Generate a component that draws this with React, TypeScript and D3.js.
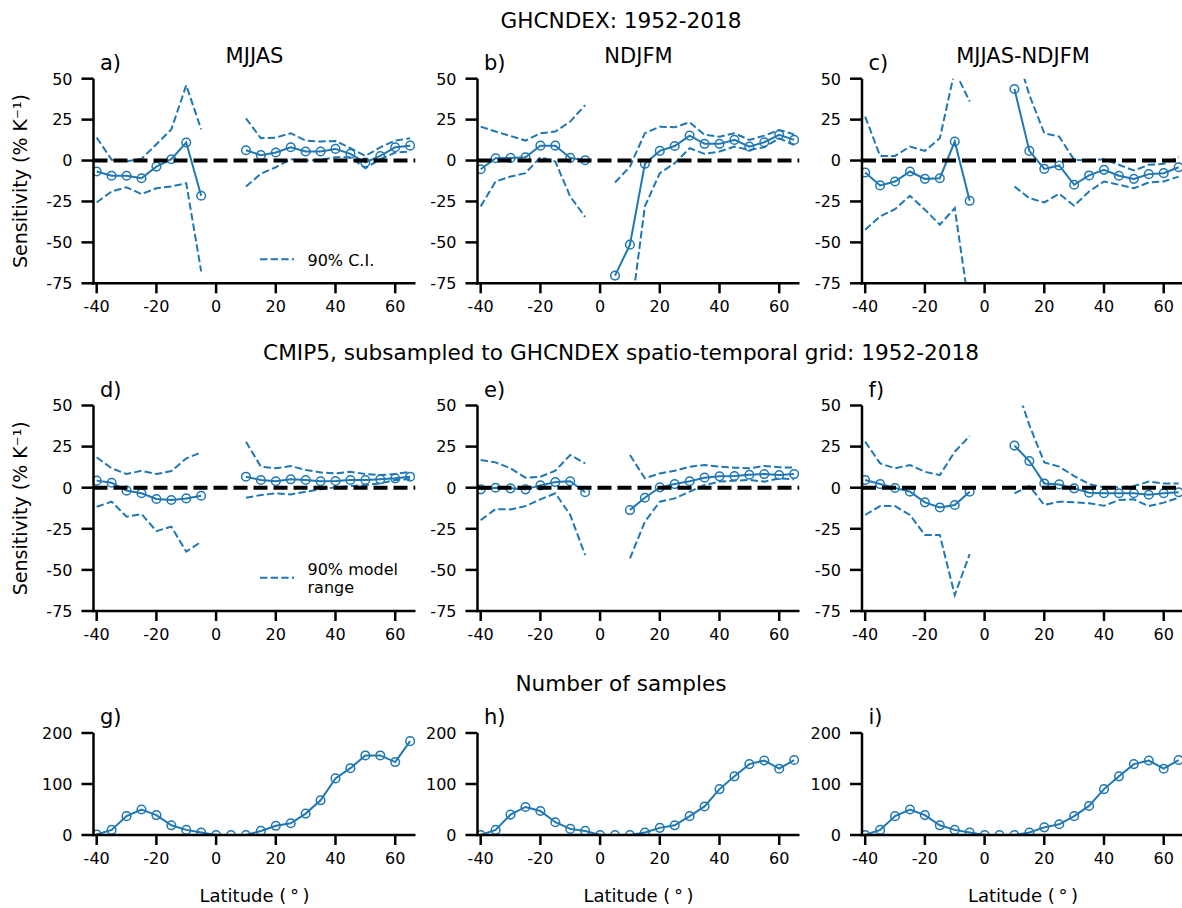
import * as d3 from "d3";

type Series = (number | null)[];

// latitude bin centres (degrees)
const LATITUDES = [-40, -35, -30, -25, -20, -15, -10, -5, 0, 5, 10, 15, 20, 25, 30, 35, 40, 45, 50, 55, 60, 65];

// GHCNDEX sensitivity (% K-1)
const meanA: Series = [-6.7, -9.3, -9.3, -10.8, -3.7, 0.8, 11, -21.5, null, null, 6.3, 3.3, 4.9, 8.1, 5.5, 5.5, 7.1, 4.1, -1.2, 2.8, 8.1, 9.1];
const upperA: Series = [14, 0.5, -0.5, 1, 10, 19, 46, 19, null, null, 25.8, 13.6, 14, 16.7, 12.2, 11.6, 12, 7.5, 2.8, 8.1, 12.2, 13.6];
const lowerA: Series = [-25.6, -18.9, -16.3, -20.5, -16.9, -15.9, -13.8, -67.7, null, null, -15.9, -8.1, -4.1, 0.8, 0, 0.4, 2, 2, -4.7, 0.8, 4.9, 5.5];

const meanB: Series = [-5.3, 1.4, 1.6, 2, 9.1, 9.1, 1.6, 0.2, null, -70.3, -51.4, -2, 5.9, 8.9, 15.2, 10.2, 10.2, 12.6, 8.5, 11.2, 15.7, 12.6];
const upperB: Series = [20.7, 17.7, 15, 12.2, 16.7, 17.7, 23.8, 33.9, null, -13.4, -3.7, 16.7, 20.7, 20.3, 23.4, 15.7, 14.6, 16.7, 12.6, 15.2, 18.7, 16];
const lowerB: Series = [-28, -12.8, -9.8, -7.7, 2, -0.6, -22, -34.5, null, -130, -98, -28, -7.7, -1.6, 7.5, 4.1, 5.5, 8.5, 6.5, 8.1, 13.6, 9.5];

const meanC: Series = [-7.3, -15.2, -12.8, -6.7, -11.2, -10.8, 11.6, -24.6, null, null, 43.7, 5.9, -5.1, -3, -14.8, -9.1, -5.7, -9.3, -11.2, -8.3, -7.7, -4.1];
const upperC: Series = [26.8, 2.8, 2.8, 8.5, 5.9, 13.6, 55, 36, null, null, 70, 40, 16.7, 14.6, 0.4, 0, 0.8, -2.6, -6.1, -2.6, -2, 2];
const lowerC: Series = [-42.3, -34.1, -29.7, -21.5, -30, -39.2, -29, -92, null, null, -15.9, -23, -25.6, -20.3, -27.6, -18.9, -12.8, -14.8, -16.9, -13.4, -12.8, -9.8];

// CMIP5 subsampled sensitivity (% K-1)
const meanD: Series = [4.3, 3, -1.8, -3.4, -6.9, -7.5, -6.5, -4.9, null, null, 6.7, 4.7, 3.9, 5.1, 4.7, 3.9, 4.1, 4.7, 4.7, 5.1, 5.7, 6.7];
const upperD: Series = [18.5, 11.8, 8.3, 10.3, 8.3, 10.1, 17.8, 21.5, null, null, 28, 12.8, 11.8, 13.2, 10.8, 9.3, 8.7, 9.7, 8.3, 7.7, 8.3, 9.7];
const lowerD: Series = [-11.6, -8.5, -17.6, -16, -26.4, -23.7, -38.9, -32.9, null, null, -6.1, -4.5, -3.4, -4.1, -2.4, -1, 0.2, 1, 1.6, 2.6, 4.7, 5.3];

const meanE: Series = [-1, 0, -0.4, -1, 1.4, 3.4, 3.9, -2.8, null, null, -13.6, -6.1, 0.2, 2.2, 3.9, 6.1, 6.9, 7.1, 7.9, 8.3, 7.7, 8.3];
const upperE: Series = [16.8, 15.4, 11.8, 6.1, 6.7, 10.3, 19.9, 14.8, null, null, 19.9, 5.7, 8.7, 10.3, 12.8, 13.8, 12.8, 12.2, 11.8, 13.2, 12.4, 12.2];
const lowerE: Series = [-19.7, -13, -13.2, -11.2, -7.1, -3.4, -16.6, -41, null, null, -43, -20.7, -8.5, -6.5, -2.4, 1.6, 3.7, 4.3, 4.7, 3.7, 5.7, 5.1];

const meanF: Series = [4.7, 2.2, -0.2, -2.4, -8.9, -12, -10.5, -2.4, null, null, 25.6, 16.2, 2.6, 2, -0.4, -3, -3.4, -3.4, -3.4, -4.3, -3.4, -2.8];
const upperF: Series = [28, 14.8, 11.8, 13.8, 9.7, 7.7, 21.9, 31.4, null, null, 65, 38, 15.4, 12.8, 7.1, 2.2, 0.2, 0.2, 1, 3.7, 2.6, 2.6];
const lowerF: Series = [-16.6, -11.2, -11.2, -16.6, -28.8, -28.8, -65.3, -40.4, null, null, -3.4, 1, -10.5, -8.5, -8.9, -9.5, -11, -7.5, -7.1, -11.2, -9.1, -6.1];

// number of samples
const countG: Series = [1, 10, 37, 50, 39, 19, 10, 5, 0, 0, 0, 8, 18, 23, 42, 68, 111, 131, 156, 156, 143, 184];
const countH: Series = [0, 10, 40, 55, 47, 25, 12, 8, 0, 0, 0, 5, 14, 19, 37, 56, 90, 115, 139, 146, 130, 147];
const countI: Series = [0, 10, 37, 50, 39, 19, 10, 5, 0, 0, 0, 5, 15, 21, 37, 57, 90, 115, 139, 146, 130, 147];

const X_TICKS = [-40, -20, 0, 20, 40, 60];
const SENS_TICKS = [50, 25, 0, -25, -50, -75];
const COUNT_TICKS = [0, 100, 200];

const WIDTH = 1182;
const HEIGHT = 908;
const BLUE = "#1f77b4";
const FONT = "DejaVu Sans";
const PANEL_W = 322;
const COL_X = [93.5, 477.5, 862];
const X_DOMAIN: [number, number] = [-41.07, 66.8];

type PanelProps = {
  id: string;
  left: number;
  top: number;
  bottom: number;
  yDomain: [number, number];
  yTicks: number[];
  mean: Series;
  upper?: Series;
  lower?: Series;
  label: string;
  title?: string;
  legend?: string[];
  legendY?: number;
  xLabel?: boolean;
};

const Panel = ({ id, left, top, bottom, yDomain, yTicks, mean, upper, lower, label, title, legend, legendY = 0, xLabel }: PanelProps) => {
  const right = left + PANEL_W;
  const xScale = d3.scaleLinear().domain(X_DOMAIN).range([left, right]);
  const yScale = d3.scaleLinear().domain(yDomain).range([bottom, top]);

  const lineGenerator = d3
    .line<number | null>()
    .defined((d) => d !== null)
    .x((_, i) => xScale(LATITUDES[i]))
    .y((d) => yScale(d as number));

  const clipId = "clip-" + id;
  const hasCI = upper !== undefined;

  return (
    <g>
      <defs>
        <clipPath id={clipId}>
          <rect x={left} y={top} width={PANEL_W} height={bottom - top} />
        </clipPath>
      </defs>
      <g clipPath={"url(#" + clipId + ")"}>
        {[upper, lower].map((s, k) =>
          s ? (
            <path key={k} d={lineGenerator(s) || undefined} fill="none" stroke={BLUE} strokeWidth={2} strokeDasharray="7.4,3.2" />
          ) : null
        )}
        <path d={lineGenerator(mean) || undefined} fill="none" stroke={BLUE} strokeWidth={2} />
        {mean.map((v, i) =>
          v === null ? null : (
            <circle key={i} cx={xScale(LATITUDES[i])} cy={yScale(v)} r={4.3} fill="none" stroke={BLUE} strokeWidth={1.5} />
          )
        )}
        {hasCI && (
          <line x1={left} x2={right} y1={yScale(0)} y2={yScale(0)} stroke="#000" strokeWidth={4} strokeDasharray="14,6" />
        )}
      </g>

      {/* spines */}
      <line x1={left} x2={left} y1={top} y2={bottom + 1.25} stroke="#000" strokeWidth={2.5} />
      <line x1={left - 1.25} x2={right} y1={bottom} y2={bottom} stroke="#000" strokeWidth={2.5} />

      {yTicks.map((t) => (
        <g key={"y" + t}>
          <line x1={left - 12} x2={left} y1={yScale(t)} y2={yScale(t)} stroke="#000" strokeWidth={2.5} />
          <text x={left - 21} y={yScale(t) + 5.8} textAnchor="end" fontSize={16} fontFamily={FONT}>
            {String(t)}
          </text>
        </g>
      ))}
      {X_TICKS.map((t) => (
        <g key={"x" + t}>
          <line x1={xScale(t)} x2={xScale(t)} y1={bottom} y2={bottom + 10} stroke="#000" strokeWidth={2.5} />
          <text x={xScale(t)} y={bottom + 29} textAnchor="middle" fontSize={16} fontFamily={FONT}>
            {String(t)}
          </text>
        </g>
      ))}

      <text x={left + 6.5} y={top - 8.6} fontSize={21} fontFamily={FONT}>
        {label}
      </text>
      {title && (
        <text x={left + PANEL_W / 2} y={top - 15.4} textAnchor="middle" fontSize={21} fontFamily={FONT}>
          {title}
        </text>
      )}
      {legend && (
        <g>
          <line x1={left + 166.5} x2={left + 200.5} y1={top + legendY} y2={top + legendY} stroke={BLUE} strokeWidth={2} strokeDasharray="7.4,3.2" />
          {legend.map((t, i) => (
            <text key={i} x={left + 214} y={top + legendY + 6.5 + (i - (legend.length - 1) / 2) * 18.5} fontSize={16} fontFamily={FONT}>
              {t}
            </text>
          ))}
        </g>
      )}
      {xLabel && (
        <text x={left + PANEL_W / 2} y={bottom + 66.5} textAnchor="middle" fontSize={18} fontFamily={FONT}>
          {"Latitude (\u2009°\u2009)"}
        </text>
      )}
    </g>
  );
};

const SENS_LABEL = "Sensitivity (% K⁻¹)";

export default function App() {
  const top1 = 78.7, bottom1 = 283.3;
  const top2 = 405.5, bottom2 = 611;
  const top3 = 733, bottom3 = 835;
  const sensDomain: [number, number] = [-75, 50];
  const countDomain: [number, number] = [0, 200];

  const rowGhcn = [
    { id: "a", mean: meanA, upper: upperA, lower: lowerA, title: "MJJAS", legend: ["90% C.I."], legendY: 180.6 },
    { id: "b", mean: meanB, upper: upperB, lower: lowerB, title: "NDJFM" },
    { id: "c", mean: meanC, upper: upperC, lower: lowerC, title: "MJJAS-NDJFM" },
  ];
  const rowCmip = [
    { id: "d", mean: meanD, upper: upperD, lower: lowerD, legend: ["90% model", "range"], legendY: 172.2 },
    { id: "e", mean: meanE, upper: upperE, lower: lowerE },
    { id: "f", mean: meanF, upper: upperF, lower: lowerF },
  ];
  const rowCount = [
    { id: "g", mean: countG },
    { id: "h", mean: countH },
    { id: "i", mean: countI },
  ];

  return (
    <svg
      width={WIDTH}
      height={HEIGHT}
      style={{ position: "absolute", left: 0, top: 0, background: "#fff" }}
    >
      <text x={621} y={27.6} textAnchor="middle" fontSize={21.6} fontFamily={FONT}>
        GHCNDEX: 1952-2018
      </text>
      <text x={621} y={359.6} textAnchor="middle" fontSize={21.6} fontFamily={FONT}>
        CMIP5, subsampled to GHCNDEX spatio-temporal grid: 1952-2018
      </text>
      <text x={621} y={690.6} textAnchor="middle" fontSize={21.6} fontFamily={FONT}>
        Number of samples
      </text>

      <text transform={"translate(27," + (top1 + bottom1) / 2 + ") rotate(-90)"} textAnchor="middle" fontSize={19} fontFamily={FONT}>
        {SENS_LABEL}
      </text>
      <text transform={"translate(27," + (top2 + bottom2) / 2 + ") rotate(-90)"} textAnchor="middle" fontSize={19} fontFamily={FONT}>
        {SENS_LABEL}
      </text>

      {rowGhcn.map((p, i) => (
        <Panel key={p.id} {...p} label={p.id + ")"} left={COL_X[i]} top={top1} bottom={bottom1} yDomain={sensDomain} yTicks={SENS_TICKS} />
      ))}
      {rowCmip.map((p, i) => (
        <Panel key={p.id} {...p} label={p.id + ")"} left={COL_X[i]} top={top2} bottom={bottom2} yDomain={sensDomain} yTicks={SENS_TICKS} />
      ))}
      {rowCount.map((p, i) => (
        <Panel key={p.id} {...p} label={p.id + ")"} left={COL_X[i]} top={top3} bottom={bottom3} yDomain={countDomain} yTicks={COUNT_TICKS} xLabel />
      ))}
    </svg>
  );
}
